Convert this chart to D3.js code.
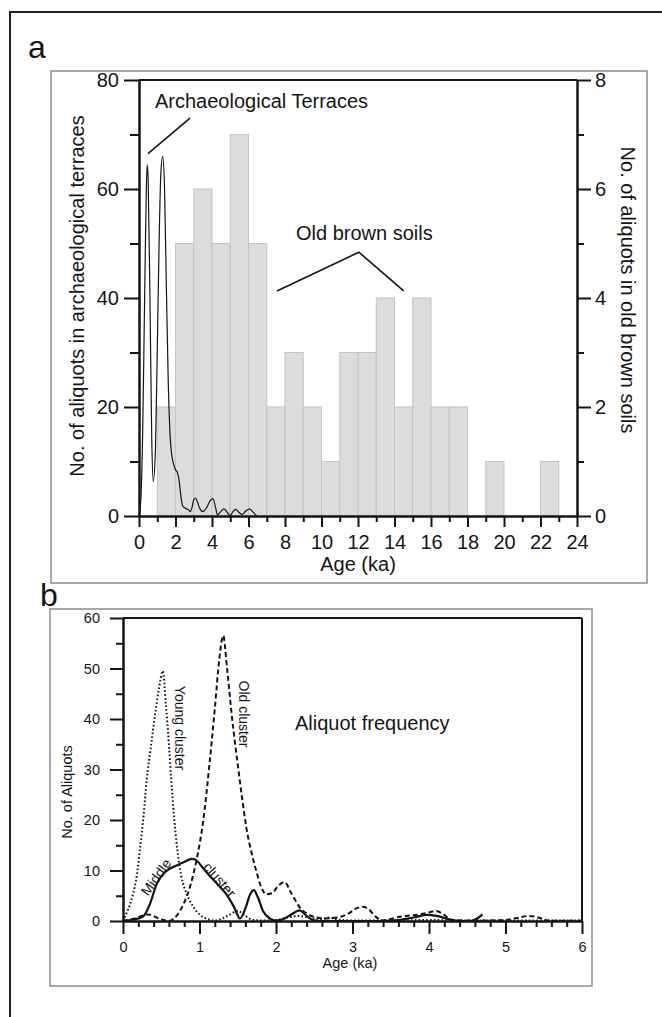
<!DOCTYPE html>
<html><head><meta charset="utf-8">
<script src="https://cdn.jsdelivr.net/npm/d3@7"></script>
<style>
body{margin:0;background:#fff}
svg{display:block}
</style>
</head><body>
<svg id="c" width="662" height="1017"></svg>
<script>
// ---------------- DATA ----------------
// Panel a: histogram of old brown soils (right axis), 1 ka bins
const binStarts = [0,1,2,3,4,5,6,7,8,9,10,11,12,13,14,15,16,17,18,19,20,21,22,23];
const binWidth = 1;
const oldBrownCounts = [0,2,5,6,5,7,5,2,3,2,1,3,3,4,2,4,2,2,0,1,0,0,1,0];
// Panel a: archaeological terraces frequency curve (left axis)
const terraceAge  = [0.0,0.1,0.2,0.3,0.4,0.45,0.5,0.6,0.7,0.78,0.9,1.0,1.1,1.2,1.3,1.4,1.5,1.6,1.7,1.8,1.9,2.0,2.1,2.2,2.3,2.4,2.5,2.6,2.7,2.8,2.9,3.0,3.1,3.2,3.3,3.5,3.7,3.9,4.05,4.2,4.3,4.45,4.65,4.85,5.0,5.15,5.3,5.5,5.65,5.85,6.05,6.25,6.45];
const terraceFreq = [0,3,15,38,60,64.5,62,40,14,6.3,12,30,50,63,66,60,42,25,15,11,9.5,8.5,8,6.5,3.5,1.8,1.5,1.3,1.2,0.8,1.5,3.0,3.3,2.6,1.6,0.8,1.5,2.8,3.2,1.5,0.2,0.7,1.3,0.6,0.1,0.8,1.2,0.6,0.3,0.9,1.3,0.7,0];
const ageTicksA = [0,2,4,6,8,10,12,14,16,18,20,22,24];
const ageMinorA = [1,3,5,7,9,11,13,15,17,19,21,23];
const leftTicksA = [0,20,40,60,80];
const leftMinorA = [10,30,50,70];
const rightTicksA = [0,2,4,6,8];
const rightMinorA = [1,3,5,7];
// annotation leader lines (data coords: age, left-axis value)
const terraceLeader = [[0.49,66.5],[2.8,73]];
const soilLeader = [[7.56,41.3],[12.05,48.4],[14.5,41.3]];

// Panel b: aliquot frequency curves
const youngAge  = [0,0.03,0.08,0.13,0.18,0.22,0.27,0.31,0.36,0.42,0.47,0.52,0.56,0.6,0.64,0.7,0.76,0.83,0.92,1.0,1.1,1.2,1.3,1.4,1.5,1.6,1.7,1.85,2.0,2.15,2.3,2.45,2.6,2.7,2.8,3.0,3.5,4.0,4.5,5.0,5.5,6.0];
const youngFreq = [0,1,2.8,5.3,9,14,21,28,34,41,46,49.5,43,35,26,15.5,9,5.5,2.8,1.3,0.4,0.1,0.5,1.3,2.0,1.0,0.2,0.1,0.2,0.7,1.0,0.6,0.4,0.7,0.3,0.1,0.1,0.2,0.1,0.1,0.1,0.1];
const oldAge  = [0,0.15,0.33,0.5,0.6,0.7,0.79,0.88,0.96,1.05,1.13,1.2,1.26,1.31,1.36,1.42,1.5,1.56,1.61,1.68,1.74,1.8,1.87,1.95,2.02,2.11,2.2,2.31,2.42,2.53,2.65,2.8,2.95,3.05,3.13,3.22,3.3,3.39,3.5,3.6,3.7,3.87,4.0,4.09,4.2,4.3,4.5,4.7,4.9,5.0,5.15,5.31,5.45,5.57,5.8,6.0];
const oldFreq = [0,0.5,1.3,0.3,0,1,3.3,7,12,20,31,42,52,56.5,50,41,31,24,18.7,13.5,10,7,5.3,5.5,6.8,7.7,5.5,2.7,1.3,0.7,0.5,0.7,1.5,2.5,2.8,2.2,0.9,0.1,0.4,0.8,1.0,1.3,1.7,2.0,1.2,0.2,0.1,0.1,0.15,0.2,0.6,1.0,0.6,0.05,0.05,0.05];
const middleAge  = [0,0.1,0.2,0.27,0.35,0.44,0.55,0.7,0.8,0.9,0.95,1.04,1.13,1.24,1.35,1.45,1.53,1.6,1.66,1.71,1.76,1.83,1.92,2.0,2.1,2.2,2.31,2.4,2.48,2.6,2.8,3.0,3.3,3.6,3.8,3.98,4.1,4.25,4.39,4.55,4.63,4.7];
const middleFreq = [0,0.2,0.5,1,3.3,7.3,9.7,11,11.7,12.3,12.1,10.6,9,7.2,5.3,2.8,0.5,2.5,5.2,6.1,4.8,2,0.5,0.1,0.4,1.3,2.1,1.0,0.2,0,0,0,0,0.2,0.7,1.2,1.0,0.4,0,0,0.5,1.3];
const ageTicksB = [0,1,2,3,4,5,6];
const ageMinorB = [0.2,0.4,0.6,0.8,1.2,1.4,1.6,1.8,2.2,2.4,2.6,2.8,3.2,3.4,3.6,3.8,4.2,4.4,4.6,4.8,5.2,5.4,5.6,5.8];
const freqTicksB = [0,10,20,30,40,50,60];
const freqMinorB = [5,15,25,35,45,55];

// ---------------- DRAW ----------------
const FONT = '"Liberation Sans", Arial, Helvetica, sans-serif';
const INK = '#151515';
const svg = d3.select('#c');

// frames
svg.append('rect').attr('x',10).attr('y',12).attr('width',720).attr('height',1100)
  .attr('fill','none').attr('stroke','#222').attr('stroke-width',2);
svg.append('rect').attr('x',51).attr('y',71).attr('width',596).attr('height',512)
  .attr('fill','none').attr('stroke','#8c8c8c').attr('stroke-width',1.5);
svg.append('rect').attr('x',50).attr('y',609).attr('width',542).attr('height',377)
  .attr('fill','none').attr('stroke','#8c8c8c').attr('stroke-width',1.5);

function txt(g, s, x, y, size, opts={}) {
  const t = g.append('text').attr('x',x).attr('y',y).text(s)
    .attr('font-family',FONT).attr('font-size',size).attr('fill',INK);
  if (opts.anchor) t.attr('text-anchor',opts.anchor);
  if (opts.rotate!==undefined) t.attr('transform',`rotate(${opts.rotate},${x},${y})`);
  return t;
}
function styleAxis(g, w, size) {
  g.attr('font-family',FONT).attr('font-size',size);
  g.select('.domain').attr('stroke',INK).attr('stroke-width',w);
  g.selectAll('.tick line').attr('stroke',INK).attr('stroke-width',w);
  g.selectAll('.tick text').attr('fill',INK);
}

txt(svg,'a',28,58,32);
txt(svg,'b',40,606,32);

// ---- Panel a ----
const xA = d3.scaleLinear().domain([0,24]).range([139,577]);
const yL = d3.scaleLinear().domain([0,80]).range([516,80]);
const yR = d3.scaleLinear().domain([0,8]).range([516,80]);
const gA = svg.append('g');

const bars = binStarts.map((s,i)=>({s, c: oldBrownCounts[i]})).filter(d=>d.c>0);
gA.selectAll('rect.bar').data(bars).join('rect').attr('class','bar')
  .attr('x',d=>xA(d.s)).attr('width',d=>xA(d.s+binWidth)-xA(d.s))
  .attr('y',d=>yR(d.c)).attr('height',d=>yR(0)-yR(d.c))
  .attr('fill','#dcdcdc').attr('stroke','#c4c4c4').attr('stroke-width',1);

gA.append('path').datum(terraceAge.map((a,i)=>[a,terraceFreq[i]]))
  .attr('d', d3.line().x(d=>xA(d[0])).y(d=>yL(d[1])).curve(d3.curveMonotoneX))
  .attr('fill','none').attr('stroke',INK).attr('stroke-width',1.2);

// top frame line
gA.append('line').attr('x1',xA(0)).attr('x2',xA(24)).attr('y1',yL(80)).attr('y2',yL(80))
  .attr('stroke',INK).attr('stroke-width',2);

let ax;
ax = gA.append('g').attr('transform',`translate(${xA(0)},0)`)
  .call(d3.axisLeft(yL).tickValues(leftTicksA).tickSize(15).tickPadding(5).tickSizeOuter(0));
styleAxis(ax,2,20);
ax = gA.append('g').attr('transform',`translate(${xA(0)},0)`)
  .call(d3.axisLeft(yL).tickValues(leftMinorA).tickSize(9).tickFormat('').tickSizeOuter(0));
styleAxis(ax,2,20);
ax = gA.append('g').attr('transform',`translate(${xA(24)},0)`)
  .call(d3.axisRight(yR).tickValues(rightTicksA).tickSize(14).tickPadding(4).tickSizeOuter(0));
styleAxis(ax,2,20);
ax = gA.append('g').attr('transform',`translate(${xA(24)},0)`)
  .call(d3.axisRight(yR).tickValues(rightMinorA).tickSize(7).tickFormat('').tickSizeOuter(0));
styleAxis(ax,2,20);
ax = gA.append('g').attr('transform',`translate(0,${yL(0)})`)
  .call(d3.axisBottom(xA).tickValues(ageTicksA).tickSize(11).tickPadding(8).tickSizeOuter(0));
styleAxis(ax,2,20);
ax = gA.append('g').attr('transform',`translate(0,${yL(0)})`)
  .call(d3.axisBottom(xA).tickValues(ageMinorA).tickSize(6).tickFormat('').tickSizeOuter(0));
styleAxis(ax,2,20);

txt(gA,'Age (ka)',358,571,20,{anchor:'middle'});
txt(gA,'No. of aliquots in archaeological terraces',84,296,20,{anchor:'middle',rotate:-90});
txt(gA,'No. of aliquots in old brown soils',621,290,20,{anchor:'middle',rotate:90});
txt(gA,'Archaeological Terraces',155,108,20);
txt(gA,'Old brown soils',296,240,20);

const lineA = d3.line().x(d=>xA(d[0])).y(d=>yL(d[1]));
gA.append('path').attr('d',lineA(terraceLeader)).attr('fill','none').attr('stroke',INK).attr('stroke-width',1.6);
gA.append('path').attr('d',lineA(soilLeader)).attr('fill','none').attr('stroke',INK).attr('stroke-width',1.6);

// ---- Panel b ----
const xB = d3.scaleLinear().domain([0,6]).range([123,582]);
const yB = d3.scaleLinear().domain([0,60]).range([921,618]);
const gB = svg.append('g');

const lineB = d3.line().x(d=>xB(d[0])).y(d=>yB(d[1])).curve(d3.curveMonotoneX);
gB.append('path').datum(youngAge.map((a,i)=>[a,youngFreq[i]])).attr('d',lineB)
  .attr('fill','none').attr('stroke',INK).attr('stroke-width',2).attr('stroke-dasharray','1.6,2.2');
gB.append('path').datum(oldAge.map((a,i)=>[a,oldFreq[i]])).attr('d',lineB)
  .attr('fill','none').attr('stroke',INK).attr('stroke-width',2).attr('stroke-dasharray','5,3');
gB.append('path').datum(middleAge.map((a,i)=>[a,middleFreq[i]])).attr('d',lineB)
  .attr('fill','none').attr('stroke',INK).attr('stroke-width',2.2);

gB.append('line').attr('x1',xB(0)).attr('x2',xB(6)).attr('y1',yB(60)).attr('y2',yB(60))
  .attr('stroke',INK).attr('stroke-width',2);
gB.append('line').attr('x1',xB(6)).attr('x2',xB(6)).attr('y1',yB(60)).attr('y2',yB(0))
  .attr('stroke',INK).attr('stroke-width',2);

ax = gB.append('g').attr('transform',`translate(${xB(0)},0)`)
  .call(d3.axisLeft(yB).tickValues(freqTicksB).tickFormat(d3.format('d')).tickSize(13).tickPadding(10).tickSizeOuter(0));
styleAxis(ax,2,14.5);
ax = gB.append('g').attr('transform',`translate(${xB(0)},0)`)
  .call(d3.axisLeft(yB).tickValues(freqMinorB).tickSize(7).tickFormat('').tickSizeOuter(0));
styleAxis(ax,2,14.5);
ax = gB.append('g').attr('transform',`translate(0,${yB(0)})`)
  .call(d3.axisBottom(xB).tickValues(ageTicksB).tickFormat(d3.format('d')).tickSize(13).tickPadding(8).tickSizeOuter(0));
styleAxis(ax,2,14.5);
ax = gB.append('g').attr('transform',`translate(0,${yB(0)})`)
  .call(d3.axisBottom(xB).tickValues(ageMinorB).tickSize(6).tickFormat('').tickSizeOuter(0));
styleAxis(ax,2,14.5);

txt(gB,'Age (ka)',350,968,14.5,{anchor:'middle'});
txt(gB,'No. of Aliquots',72,792,14.5,{anchor:'middle',rotate:-90});
txt(gB,'Aliquot frequency',295,730,20);
txt(gB,'Young cluster',175,728,14,{anchor:'middle',rotate:90});
txt(gB,'Old cluster',239,714,14,{anchor:'middle',rotate:90});
txt(gB,'Middle',160,880,14,{anchor:'middle',rotate:-54});
txt(gB,'cluster',216,883,14,{anchor:'middle',rotate:49});
</script>
</body></html>
